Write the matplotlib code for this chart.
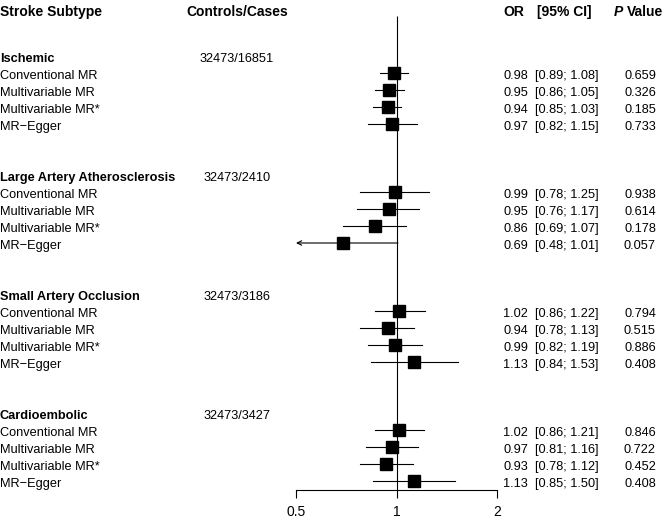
import matplotlib.pyplot as plt
import matplotlib.transforms as mtransforms

# stroke subtypes and their sample sizes
groups = ["Ischemic", "Large Artery Atherosclerosis", "Small Artery Occlusion", "Cardioembolic"]
controls_cases = ["32473/16851", "32473/2410", "32473/3186", "32473/3427"]
methods = ["Conventional MR", "Multivariable MR", "Multivariable MR*", "MR\u2212Egger"]

# odds ratios, CI bounds and p values, one list of 4 (methods) per subtype
odds = [
    [0.98, 0.95, 0.94, 0.97],
    [0.99, 0.95, 0.86, 0.69],
    [1.02, 0.94, 0.99, 1.13],
    [1.02, 0.97, 0.93, 1.13],
]
lower = [
    [0.89, 0.86, 0.85, 0.82],
    [0.78, 0.76, 0.69, 0.48],
    [0.86, 0.78, 0.82, 0.84],
    [0.86, 0.81, 0.78, 0.85],
]
upper = [
    [1.08, 1.05, 1.03, 1.15],
    [1.25, 1.17, 1.07, 1.01],
    [1.22, 1.13, 1.19, 1.53],
    [1.21, 1.16, 1.12, 1.50],
]
pvals = [
    ["0.659", "0.326", "0.185", "0.733"],
    ["0.938", "0.614", "0.178", "0.057"],
    ["0.794", "0.515", "0.886", "0.408"],
    ["0.846", "0.722", "0.452", "0.408"],
]

plt.rcParams["font.family"] = ["Liberation Sans", "DejaVu Sans"]

W, H = 666, 521
fig = plt.figure(figsize=(W / 100, H / 100), dpi=100)
# forest panel: x from 0.5 to 2 on a log scale
ax = fig.add_axes([296 / W, (H - 490) / H, 201 / W, 490 / H])
ax.set_xscale("log", base=2)
ax.set_xlim(0.5, 2)
# one row = 17 px, row 0 is the first subtype heading
ax.set_ylim(25.53, -56 / 17)

for s in ["top", "right", "left"]:
    ax.spines[s].set_visible(False)
ax.spines["bottom"].set_linewidth(0.8)
ax.set_yticks([])
ax.set_xticks([0.5, 1, 2])
ax.set_xticklabels(["0.5", "1", "2"])
ax.xaxis.set_minor_locator(plt.NullLocator())
ax.tick_params(axis="x", length=6, width=0.8, pad=5, labelsize=10)

# reference line at OR = 1
ax.vlines(1, 25.53, -2.35, color="black", lw=0.8, clip_on=False)

fx = lambda px: px / W
trans = mtransforms.blended_transform_factory(fig.transFigure, ax.transData)
fs = 9.2
hfs = 10
va = "center_baseline"
dy = 0.1  # text sits a touch below the marker centre

# header row
hy = -2.65
ax.text(fx(0), hy, "Stroke Subtype", transform=trans, fontsize=hfs, fontweight="bold", va=va)
ax.text(fx(237), hy, "Controls/Cases", transform=trans, fontsize=hfs, fontweight="bold", va=va, ha="center")
ax.text(fx(503), hy, "OR", transform=trans, fontsize=hfs, fontweight="bold", va=va)
ax.text(fx(537), hy, "[95% CI]", transform=trans, fontsize=hfs, fontweight="bold", va=va)
ax.text(fx(614), hy, "P", transform=trans, fontsize=hfs, fontweight="bold", style="italic", va=va)
ax.text(fx(627), hy, "Value", transform=trans, fontsize=hfs, fontweight="bold", va=va)

for g, name in enumerate(groups):
    y0 = g * 7
    ax.text(fx(0), y0 + dy, name, transform=trans, fontsize=fs, fontweight="bold", va=va)
    ax.text(fx(237), y0 + dy, controls_cases[g], transform=trans, fontsize=fs, va=va, ha="center")
    for m, method in enumerate(methods):
        y = y0 + m + 1
        ax.text(fx(0), y + dy, method, transform=trans, fontsize=fs, va=va)
        lo, hi, est = lower[g][m], upper[g][m], odds[g][m]
        if lo < 0.5:
            # interval runs off the left edge: draw an arrow
            ax.annotate("", xy=(0.5, y), xytext=(hi, y),
                        arrowprops=dict(arrowstyle="->", lw=0.8, color="black",
                                        mutation_scale=8, shrinkA=0, shrinkB=0))
        else:
            ax.plot([lo, hi], [y, y], color="black", lw=0.8)
        ax.plot(est, y, marker="s", color="black", ms=9.2, zorder=3)
        ax.text(fx(503), y + dy, f"{est:.2f}", transform=trans, fontsize=fs, va=va)
        ax.text(fx(535), y + dy, f"[{lo:.2f}; {hi:.2f}]", transform=trans, fontsize=fs, va=va)
        ax.text(fx(640), y + dy, pvals[g][m], transform=trans, fontsize=fs, va=va, ha="center")

fig.savefig("out.png", dpi=100)
